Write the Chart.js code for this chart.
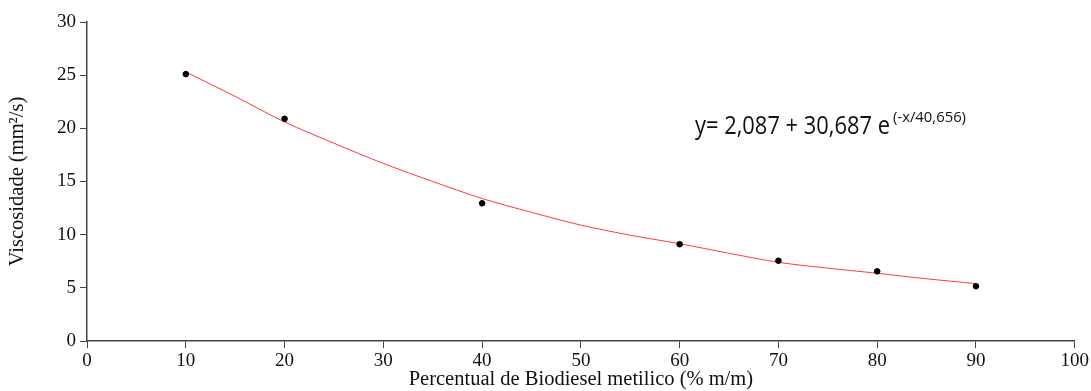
<!DOCTYPE html>
<html lang="pt">
<head>
    <meta charset="UTF-8" />
    <title>Viscosidade x Biodiesel</title>
    <script src="https://cdn.jsdelivr.net/npm/chart.js"></script>
    <style>
        html, body { margin: 0; padding: 0; background: #fff; }
        #wrap { width: 1091px; height: 391px; position: relative; }
    </style>
</head>
<body>
    <div id="wrap"><canvas id="visc"></canvas></div>
    <script>
        // measured viscosity at each blend
        const blendPct = [10, 20, 40, 60, 70, 80, 90];
        const viscosity = [25.1, 20.9, 12.95, 9.1, 7.55, 6.55, 5.15];

        // fitted curve
        const fitX = [10, 15, 20, 25, 30, 35, 40, 45, 50, 55, 60, 65, 70, 75, 80, 85, 90];
        const fitY = [25.3, 23.0, 20.6, 18.6, 16.7, 15.0, 13.4, 12.1, 10.9, 9.95, 9.15, 8.25, 7.4, 6.85, 6.37, 5.85, 5.4];

        const xTicks = [0, 10, 20, 30, 40, 50, 60, 70, 80, 90, 100];
        const yTicks = [0, 5, 10, 15, 20, 25, 30];

        const xTitle = 'Percentual de Biodiesel metilico (% m/m)';
        const yTitle = 'Viscosidade (mm\u00b2/s)';
        const eqMain = 'y= 2,087 + 30,687 e';
        const eqSup = '(-x/40,656)';

        const serif = "'Liberation Serif', 'Times New Roman', serif";
        const sans = "'Open Sans', sans-serif";
        const axisColor = '#444';

        // fit equation, drawn in a condensed sans
        const equation = {
            id: 'equation',
            afterDraw(chart) {
                const c = chart.ctx;
                c.save();
                c.fillStyle = '#111';
                c.textAlign = 'left';
                c.textBaseline = 'alphabetic';

                c.font = '26px ' + sans;
                const w1 = c.measureText(eqMain).width;
                c.setTransform(195 / w1, 0, 0, 1, 695, 134);
                c.fillText(eqMain, 0, 0);

                c.font = '15px ' + sans;
                const w2 = c.measureText(eqSup).width;
                c.setTransform(73 / w2, 0, 0, 1, 893, 121.5);
                c.fillText(eqSup, 0, 0);
                c.restore();
            }
        };

        new Chart(document.getElementById('visc'), {
            type: 'scatter',
            data: {
                datasets: [
                    {
                        label: 'ajuste',
                        data: fitX.map((x, i) => ({ x: x, y: fitY[i] })),
                        showLine: true,
                        borderColor: '#ff3b3b',
                        borderWidth: 1,
                        pointRadius: 0,
                        tension: 0.3,
                        order: 2
                    },
                    {
                        label: 'medido',
                        data: blendPct.map((x, i) => ({ x: x, y: viscosity[i] })),
                        backgroundColor: '#000',
                        borderColor: '#000',
                        pointRadius: 2.8,
                        order: 1
                    }
                ]
            },
            options: {
                responsive: true,
                maintainAspectRatio: false,
                animation: false,
                layout: { padding: { top: 22, right: 16, bottom: 0, left: 0 } },
                plugins: {
                    legend: { display: false },
                    tooltip: { enabled: false }
                },
                scales: {
                    x: {
                        type: 'linear',
                        min: 0,
                        max: 100,
                        afterBuildTicks: s => { s.ticks = xTicks.map(v => ({ value: v })); },
                        afterFit: s => { s.height = 50; },
                        border: { display: true, color: axisColor, width: 1.5 },
                        grid: { drawOnChartArea: false, drawTicks: true, tickLength: 7, color: axisColor },
                        ticks: { color: '#111', padding: 2, maxRotation: 0, font: { family: serif, size: 19 } },
                        title: {
                            display: true,
                            text: xTitle,
                            color: '#111',
                            padding: { top: 0, bottom: 0 },
                            font: { family: serif, size: 20.5, lineHeight: 1.1 }
                        }
                    },
                    y: {
                        type: 'linear',
                        min: 0,
                        max: 30,
                        afterBuildTicks: s => { s.ticks = yTicks.map(v => ({ value: v })); },
                        afterFit: s => { s.width = 87; },
                        border: { display: true, color: axisColor, width: 1.5 },
                        grid: { drawOnChartArea: false, drawTicks: true, tickLength: 7, color: axisColor },
                        ticks: { color: '#111', padding: 4, font: { family: serif, size: 19 } },
                        title: {
                            display: true,
                            text: yTitle,
                            color: '#111',
                            padding: { top: 6, bottom: 0 },
                            font: { family: serif, size: 20.5, lineHeight: 1.1 }
                        }
                    }
                }
            },
            plugins: [equation]
        });
    </script>
</body>
</html>
